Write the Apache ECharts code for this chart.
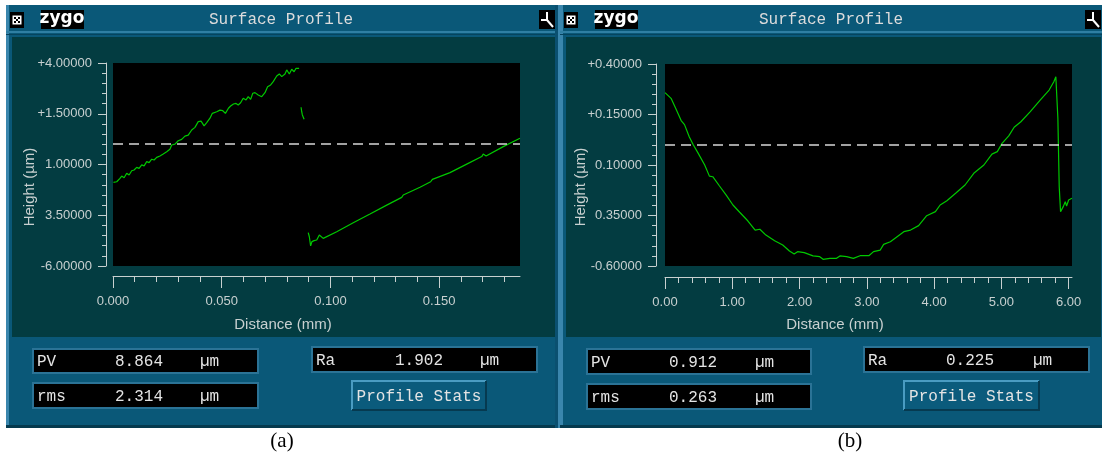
<!DOCTYPE html>
<html>
<head>
<meta charset="utf-8">
<script src="https://cdn.jsdelivr.net/npm/echarts@6.0.0/dist/echarts.min.js"></script>
<style>
  html, body { margin: 0; padding: 0; background: #fff; }
  #main { width: 1102px; height: 456px; }
</style>
</head>
<body>
<div id="main"></div>
<script>
// (a) profile; three pieces with gaps between them
const aSeg1 = [
  [0.0002,-1.88],[0.0017,-1.85],[0.0032,-1.68],[0.0040,-1.57],[0.0051,-1.65],[0.0063,-1.43],
  [0.0074,-1.52],[0.0086,-1.31],[0.0097,-1.27],[0.0109,-1.14],[0.0120,-1.19],[0.0132,-1.02],
  [0.0143,-1.07],[0.0155,-0.86],[0.0166,-0.91],[0.0178,-0.74],[0.0189,-0.78],[0.0201,-0.65],
  [0.0216,-0.58],[0.0231,-0.48],[0.0247,-0.37],[0.0262,-0.25],[0.0270,-0.04],[0.0285,0.00],
  [0.0300,0.17],[0.0316,0.24],[0.0331,0.40],[0.0346,0.45],[0.0362,0.70],[0.0377,0.83],
  [0.0392,1.11],[0.0405,1.14],[0.0419,0.90],[0.0431,1.06],[0.0446,1.28],[0.0457,1.52],
  [0.0477,1.60],[0.0492,1.68],[0.0505,1.65],[0.0517,1.52],[0.0531,1.77],[0.0541,1.88],
  [0.0554,1.98],[0.0566,2.01],[0.0576,1.93],[0.0587,2.04],[0.0599,2.26],[0.0612,2.18],
  [0.0622,2.34],[0.0633,2.21],[0.0643,2.51],[0.0653,2.54],[0.0668,2.42],[0.0684,2.34],
  [0.0699,2.54],[0.0711,2.83],[0.0725,2.92],[0.0737,3.08],[0.0753,3.36],[0.0765,3.46],
  [0.0776,3.33],[0.0791,3.46],[0.0799,3.66],[0.0811,3.46],[0.0822,3.69],[0.0833,3.57],
  [0.0842,3.74],[0.0856,3.74]
];
const aSeg2 = [[0.0865,1.82],[0.0868,1.60],[0.0871,1.44],[0.0879,1.23]];
const aSeg3 = [
  [0.0898,-4.36],[0.0903,-4.56],[0.0909,-5.01],[0.0915,-4.80],[0.0925,-4.75],[0.0937,-4.72],
  [0.0949,-4.47],[0.0957,-4.56],[0.0967,-4.64],[0.1029,-4.31],[0.1105,-3.87],[0.1182,-3.44],
  [0.1259,-3.00],[0.1328,-2.62],[0.1335,-2.50],[0.1343,-2.59],[0.1412,-2.12],[0.1461,-1.85],
  [0.1469,-1.73],[0.1477,-1.80],[0.1550,-1.40],[0.1627,-0.98],[0.1696,-0.61],[0.1703,-0.48],
  [0.1716,-0.58],[0.1795,-0.12],[0.1872,0.29]
];
// (b) profile
const bLine = [
  [0.00,0.258],[0.09,0.23],[0.16,0.18],[0.24,0.12],[0.29,0.10],[0.36,0.04],[0.42,0.0],
  [0.49,-0.04],[0.59,-0.10],[0.66,-0.155],[0.71,-0.158],[0.81,-0.204],[0.91,-0.249],
  [1.01,-0.298],[1.11,-0.334],[1.23,-0.376],[1.34,-0.422],[1.41,-0.418],[1.50,-0.447],
  [1.63,-0.475],[1.75,-0.496],[1.85,-0.526],[1.92,-0.541],[1.97,-0.529],[2.07,-0.534],
  [2.20,-0.550],[2.30,-0.554],[2.35,-0.567],[2.45,-0.562],[2.55,-0.562],[2.60,-0.550],
  [2.70,-0.554],[2.80,-0.562],[2.90,-0.549],[3.03,-0.549],[3.10,-0.529],[3.20,-0.521],
  [3.25,-0.493],[3.35,-0.480],[3.45,-0.455],[3.55,-0.430],[3.65,-0.422],[3.77,-0.400],
  [3.89,-0.351],[4.02,-0.331],[4.09,-0.298],[4.19,-0.277],[4.32,-0.240],[4.46,-0.199],
  [4.59,-0.141],[4.74,-0.10],[4.86,-0.046],[4.94,-0.034],[5.01,0.007],[5.11,0.044],
  [5.19,0.087],[5.29,0.114],[5.43,0.164],[5.58,0.222],[5.71,0.271],[5.78,0.312],
  [5.81,0.337],[5.83,0.334],[5.84,0.131],[5.86,-0.207],[5.88,-0.331],[5.92,-0.306],
  [5.95,-0.282],[5.97,-0.303],[6.00,-0.273],[6.05,-0.265]
];

// ticks
const aXMajor = [0, 0.05, 0.1, 0.15];
const aXLabels = ['0.000', '0.050', '0.100', '0.150'];
const aXMinor = [0.01,0.02,0.03,0.04,0.06,0.07,0.08,0.09,0.11,0.12,0.13,0.14,0.16,0.17,0.18];
const aYMajor = [-6, -3.5, -1, 1.5, 4];
const aYLabels = ['-6.00000', '3.50000', '1.00000', '+1.50000', '+4.00000'];
const aYMinor = [-5.5,-5,-4.5,-4,-3,-2.5,-2,-1.5,-0.5,0,0.5,1,2,2.5,3,3.5];

const bXMajor = [0, 1, 2, 3, 4, 5, 6];
const bXLabels = ['0.00', '1.00', '2.00', '3.00', '4.00', '5.00', '6.00'];
const bXMinor = [0.2,0.4,0.6,0.8,1.2,1.4,1.6,1.8,2.2,2.4,2.6,2.8,3.2,3.4,3.6,3.8,
                 4.2,4.4,4.6,4.8,5.2,5.4,5.6,5.8];
const bYMajor = [-0.6, -0.35, -0.1, 0.15, 0.4];
const bYLabels = ['-0.60000', '0.35000', '0.10000', '+0.15000', '+0.40000'];
const bYMinor = [-0.55,-0.5,-0.45,-0.4,-0.3,-0.25,-0.2,-0.15,-0.05,0,0.05,0.1,0.2,0.25,0.3,0.35];

// stats text: PV, rms, Ra
const aStats = ['8.864', '2.314', '1.902'];
const bStats = ['0.912', '0.263', '0.225'];

const AXIS = '#c8d0d0';
const GREEN = '#00c800';
const MONO = '"Liberation Mono", "DejaVu Sans Mono", monospace';
const SANS = '"Liberation Sans", Arial, sans-serif';

function axisPair(dim, grid, min, max, major, labels, minor, offset, majLen, minLen, margin) {
  let pos = dim === 'x' ? 'bottom' : 'left';
  let main = {
    type: 'value', gridIndex: grid, min: min, max: max, position: pos, offset: offset,
    axisLine: { show: true, onZero: false, lineStyle: { color: AXIS, width: 1 } },
    axisTick: { show: true, customValues: major, length: majLen, lineStyle: { color: AXIS, width: 1 } },
    axisLabel: {
      show: true, customValues: major, margin: margin, color: AXIS,
      fontFamily: SANS, fontSize: 13,
      formatter: function (v) {
        let i = major.findIndex(function (m) { return Math.abs(m - v) < 1e-9; });
        return i < 0 ? '' : labels[i];
      }
    },
    splitLine: { show: false }
  };
  let minorAxis = {
    type: 'value', gridIndex: grid, min: min, max: max, position: pos, offset: offset,
    axisLine: { show: false, onZero: false },
    axisTick: { show: true, customValues: minor, length: minLen, lineStyle: { color: AXIS, width: 1 } },
    axisLabel: { show: false },
    splitLine: { show: false }
  };
  return [main, minorAxis];
}

let ax = axisPair('x', 0, 0, 0.1872, aXMajor, aXLabels, aXMinor, 10, 12, 6, 19);
let ay = axisPair('y', 0, -6, 4, aYMajor, aYLabels, aYMinor, 7, 8, 4, 14);
let bx = axisPair('x', 1, 0, 6.05, bXMajor, bXLabels, bXMinor, 11, 12, 6, 19);
let by = axisPair('y', 1, -0.6, 0.4, bYMajor, bYLabels, bYMinor, 9, 8, 4, 14);

function lineSeries(data, grid, withMean) {
  let s = {
    type: 'line', data: data, xAxisIndex: grid * 2, yAxisIndex: grid * 2,
    showSymbol: false, symbol: 'none', silent: true, animation: false,
    lineStyle: { color: GREEN, width: 1.2 }
  };
  if (withMean) {
    s.markLine = {
      silent: true, symbol: ['none', 'none'], label: { show: false },
      lineStyle: { color: '#d8d8d8', type: [10, 6], width: 1.5 },
      data: [{ yAxis: 0 }]
    };
  }
  return s;
}

// window chrome
function windowChrome(x0, x1, title, stats, boxes) {
  let w = x1 - x0;
  let g = [];
  g.push({ type: 'rect', z: -5, shape: { x: x0, y: 5, width: w, height: 423 }, style: { fill: '#0a5878' } });
  g.push({ type: 'rect', z: -4, shape: { x: x0, y: 5, width: 3, height: 423 }, style: { fill: '#3a86ad' } });
  g.push({ type: 'rect', z: -4, shape: { x: x0, y: 31, width: w, height: 2 }, style: { fill: '#2f7fa3' } });
  g.push({ type: 'rect', z: -4, shape: { x: x0, y: 34, width: w, height: 1 }, style: { fill: '#06445e' } });
  g.push({ type: 'rect', z: -4, shape: { x: x0 + 6, y: 37, width: w - 7, height: 300 }, style: { fill: '#033c41' } });
  g.push({ type: 'rect', z: -4, shape: { x: x0, y: 425, width: w, height: 3 }, style: { fill: '#053a4e' } });
  // close box
  g.push({ type: 'rect', z: 1, shape: { x: x0 + 4, y: 12, width: 14, height: 16 }, style: { fill: '#000' } });
  g.push({ type: 'rect', z: 2, shape: { x: x0 + 6.5, y: 15.5, width: 9, height: 9 }, style: { fill: '#fff' } });
  [[0, 0], [4, 0], [2, 2], [0, 4], [4, 4]].forEach(function (p) {
    g.push({ type: 'rect', z: 3, shape: { x: x0 + 8 + p[0], y: 17 + p[1], width: 2, height: 2 }, style: { fill: '#000' } });
  });
  // logo
  g.push({ type: 'rect', z: 1, shape: { x: x0 + 35, y: 10, width: 43, height: 19 }, style: { fill: '#000' } });
  g.push({ type: 'text', z: 2, x: x0 + 56, y: 19, style: { text: 'zygo', fill: '#fff', font: 'bold 17px "DejaVu Sans", sans-serif', align: 'center', verticalAlign: 'middle' } });
  // corner icon
  let cx = x1 - 17;
  g.push({ type: 'rect', z: 1, shape: { x: cx, y: 10, width: 16, height: 19 }, style: { fill: '#000' } });
  g.push({ type: 'polyline', z: 2, shape: { points: [[cx + 8, 12], [cx + 8, 20], [cx + 2, 20]] }, style: { stroke: '#fff', lineWidth: 2, fill: null } });
  g.push({ type: 'polyline', z: 2, shape: { points: [[cx + 8, 20], [cx + 14, 27]] }, style: { stroke: '#fff', lineWidth: 2, fill: null } });
  // title
  g.push({ type: 'text', z: 2, x: (x0 + x1) / 2, y: 20, style: { text: title, fill: '#dcdcdc', font: '16px ' + MONO, align: 'center', verticalAlign: 'middle' } });
  // stat boxes
  let names = ['PV', 'rms', 'Ra'];
  boxes.forEach(function (b, i) {
    g.push({ type: 'rect', z: 1, shape: { x: b[0], y: b[1], width: b[2], height: b[3] }, style: { fill: '#000', stroke: '#2b7396', lineWidth: 2 } });
    let cy = b[1] + b[3] / 2 + 1;
    g.push({ type: 'text', z: 2, x: b[0] + 4, y: cy, style: { text: names[i], fill: '#e4e4e4', font: '16px ' + MONO, verticalAlign: 'middle' } });
    g.push({ type: 'text', z: 2, x: b[4], y: cy, style: { text: stats[i], fill: '#e4e4e4', font: '16px ' + MONO, verticalAlign: 'middle' } });
    g.push({ type: 'text', z: 2, x: b[5], y: cy, style: { text: 'µm', fill: '#e4e4e4', font: '16px ' + MONO, verticalAlign: 'middle' } });
  });
  return g;
}

function button(x, y, w, h) {
  return [
    { type: 'rect', z: 1, shape: { x: x, y: y, width: w, height: h }, style: { fill: '#0b5b7c' } },
    { type: 'polyline', z: 2, shape: { points: [[x, y + h], [x, y], [x + w, y]] }, style: { stroke: '#4a9cc2', lineWidth: 2, fill: null } },
    { type: 'polyline', z: 2, shape: { points: [[x + w, y], [x + w, y + h], [x, y + h]] }, style: { stroke: '#063a50', lineWidth: 2, fill: null } },
    { type: 'text', z: 3, x: x + w / 2, y: y + h / 2 + 1, style: { text: 'Profile Stats', fill: '#e4e4e4', font: '16px ' + MONO, align: 'center', verticalAlign: 'middle' } }
  ];
}

let graphics = []
  .concat(windowChrome(6, 556, 'Surface Profile', aStats,
    [[33, 349, 225, 24, 115, 200], [33, 383, 225, 25, 115, 200], [312, 347, 225, 25, 395, 480]]))
  .concat(windowChrome(560, 1102, 'Surface Profile', bStats,
    [[587, 349, 224, 25, 669, 755], [587, 384, 224, 25, 669, 755], [864, 347, 225, 25, 946, 1033]]))
  .concat(button(352, 381, 134, 29))
  .concat(button(904, 381, 135, 29));
// separator between windows
graphics.push({ type: 'rect', z: -3, shape: { x: 555, y: 5, width: 5, height: 423 }, style: { fill: '#0a5070' } });
graphics.push({ type: 'rect', z: -3, shape: { x: 558, y: 5, width: 2, height: 423 }, style: { fill: '#3a86ad' } });
// axis names
graphics.push({ type: 'text', z: 2, x: 283, y: 325, style: { text: 'Distance (mm)', fill: AXIS, font: '15px ' + SANS, align: 'center', verticalAlign: 'middle' } });
graphics.push({ type: 'text', z: 2, x: 835, y: 325, style: { text: 'Distance (mm)', fill: AXIS, font: '15px ' + SANS, align: 'center', verticalAlign: 'middle' } });
graphics.push({ type: 'text', z: 2, x: 30, y: 187, rotation: Math.PI / 2, style: { text: 'Height (µm)', fill: AXIS, font: '15px ' + SANS, align: 'center', verticalAlign: 'middle' } });
graphics.push({ type: 'text', z: 2, x: 581, y: 187, rotation: Math.PI / 2, style: { text: 'Height (µm)', fill: AXIS, font: '15px ' + SANS, align: 'center', verticalAlign: 'middle' } });
// captions
graphics.push({ type: 'text', z: 2, x: 282, y: 441, style: { text: '(a)', fill: '#000', font: '21px "Liberation Serif", serif', align: 'center', verticalAlign: 'middle' } });
graphics.push({ type: 'text', z: 2, x: 850, y: 441, style: { text: '(b)', fill: '#000', font: '21px "Liberation Serif", serif', align: 'center', verticalAlign: 'middle' } });

let chart = echarts.init(document.getElementById('main'), null, { renderer: 'canvas' });
chart.setOption({
  backgroundColor: '#ffffff',
  animation: false,
  grid: [
    { left: 113, top: 63, width: 407, height: 203, show: true, backgroundColor: '#000', borderWidth: 0, outerBoundsMode: 'none', containLabel: false },
    { left: 665, top: 64, width: 407, height: 202, show: true, backgroundColor: '#000', borderWidth: 0, outerBoundsMode: 'none', containLabel: false }
  ],
  xAxis: [ax[0], ax[1], bx[0], bx[1]],
  yAxis: [ay[0], ay[1], by[0], by[1]],
  series: [
    lineSeries(aSeg1, 0, true),
    lineSeries(aSeg2, 0, false),
    lineSeries(aSeg3, 0, false),
    lineSeries(bLine, 1, true)
  ],
  graphic: graphics
});
</script>
</body>
</html>
